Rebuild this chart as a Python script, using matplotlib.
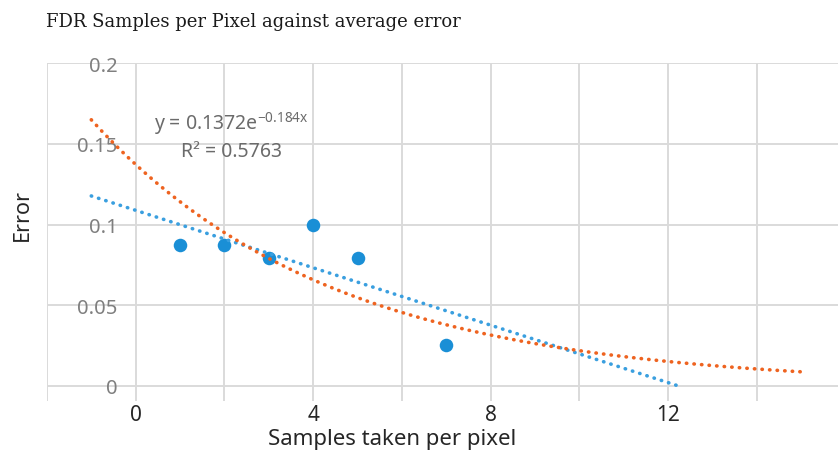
import matplotlib.pyplot as plt
import numpy as np

plt.rcParams['font.family'] = ['Noto Sans', 'DejaVu Sans']
plt.rcParams['mathtext.default'] = 'regular'

samples = [1, 2, 3, 4, 5, 7]
errors = [0.087, 0.087, 0.079, 0.1, 0.079, 0.025]

# exponential trendline as printed on the chart
exp_a = 0.1372
exp_b = -0.184
r_squared = 0.5763

x_ticks = [0, 4, 8, 12]
y_ticks = [0, 0.05, 0.1, 0.15, 0.2]
y_tick_labels = ['0', '0.05', '0.1', '0.15', '0.2']

fig = plt.figure(figsize=(8.38, 4.52), dpi=100)
ax = fig.add_axes([0.056, 0.111, 0.944, 0.747])

ax.set_xlim(-2, 15.83)
ax.set_ylim(-0.0093, 0.2)

# trendlines
xs = np.linspace(-1, 15, 300)
lin_k, lin_c = np.polyfit(samples, errors, 1)
lin_y = lin_k * xs + lin_c
keep = lin_y >= 0
ax.plot(xs[keep], lin_y[keep], color='#3a9fdf', linewidth=2.6,
        linestyle=(0, (0.1, 2.0)), dash_capstyle='round', zorder=4)
ax.plot(xs, exp_a * np.exp(exp_b * xs), color='#ee6320', linewidth=2.6,
        linestyle=(0, (0.1, 2.0)), dash_capstyle='round', zorder=5)

ax.scatter(samples, errors, s=95, color='#1a8fd6', zorder=3, linewidths=0)

ax.text(0.42, 0.163, r'y = 0.1372e$^{-0.184x}$', fontsize=14, color='#6b6b6b',
        va='center')
ax.text(2.15, 0.1455, 'R² = ' + str(r_squared), fontsize=14, color='#6b6b6b',
        ha='center', va='center')

# grid
ax.set_xticks(x_ticks)
ax.set_xticks(np.arange(-2, 16, 2), minor=True)
ax.set_yticks(y_ticks)
ax.set_yticklabels(y_tick_labels)
ax.grid(True, which='both', axis='x', color='#dadada', linewidth=1.4)
ax.grid(True, which='major', axis='y', color='#dadada', linewidth=1.4)
ax.set_axisbelow(True)
for s in ax.spines.values():
    s.set_visible(False)
ax.spines['left'].set_position(('data', 0))

ax.tick_params(axis='both', which='both', length=0)
ax.tick_params(axis='y', labelsize=14.5, labelcolor='#7f7f7f', pad=13)
ax.tick_params(axis='x', labelsize=15, labelcolor='#262626', pad=2)

ax.set_xlabel('Samples taken per pixel', fontsize=16, color='#262626')
ax.xaxis.set_label_coords(0.436, -0.08)
ax.set_ylabel('Error', fontsize=15.5, color='#262626')
ax.yaxis.set_label_coords(-0.018, 0.553)

fig.text(0.055, 0.952, 'FDR Samples per Pixel against average error',
         fontsize=13, family='DejaVu Serif', color='#1a1a1a', va='center')

plt.savefig('out.png', dpi=100)
plt.close()
